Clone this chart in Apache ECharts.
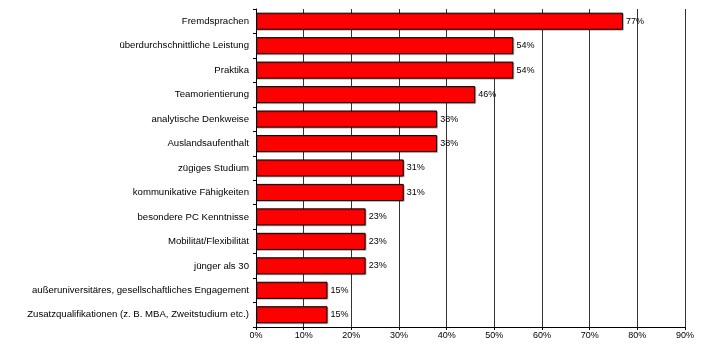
<!DOCTYPE html>
<html><head><meta charset="utf-8">
<script src="https://cdn.jsdelivr.net/npm/echarts@6/dist/echarts.min.js"></script>
<style>html,body{margin:0;padding:0;background:#fff}#c{width:704px;height:344px}</style>
</head><body><div id="c"></div>
<script>
const categories = [
  "Fremdsprachen",
  "überdurchschnittliche Leistung",
  "Praktika",
  "Teamorientierung",
  "analytische Denkweise",
  "Auslandsaufenthalt",
  "zügiges Studium",
  "kommunikative Fähigkeiten",
  "besondere PC Kenntnisse",
  "Mobilität/Flexibilität",
  "jünger als 30",
  "außeruniversitäres, gesellschaftliches Engagement",
  "Zusatzqualifikationen (z. B. MBA, Zweitstudium etc.)"
];
const values = [77, 54, 54, 46, 38, 38, 31, 31, 23, 23, 23, 15, 15];
const xTicks = [0, 10, 20, 30, 40, 50, 60, 70, 80, 90];

const chart = echarts.init(document.getElementById('c'));
const font = 'Arial, "Liberation Sans", sans-serif';
chart.setOption({
  animation: false,
  grid: { left: 256, right: 19, top: 9, bottom: 17 },
  xAxis: {
    type: 'value', min: xTicks[0], max: xTicks[xTicks.length - 1], interval: 10,
    axisLine: { show: true, lineStyle: { color: '#000', width: 1 } },
    axisTick: { show: true, length: 3, lineStyle: { color: '#000' } },
    axisLabel: { formatter: '{value}%', color: '#000', fontSize: 9, fontFamily: font, margin: 4 },
    splitLine: { show: true, lineStyle: { color: '#333', width: 1 } }
  },
  yAxis: {
    type: 'category', data: categories, inverse: true,
    axisLine: { show: true, lineStyle: { color: '#000', width: 1 } },
    axisTick: { show: true, length: 3, alignWithLabel: false, lineStyle: { color: '#000' } },
    axisLabel: { color: '#000', fontSize: 9.6, fontFamily: font, margin: 7 },
    splitLine: { show: false }
  },
  series: [{
    type: 'bar', data: values, barCategoryGap: '30%',
    itemStyle: { color: '#ff0000', borderColor: '#000', borderWidth: 1,
      shadowColor: 'rgba(0,0,0,0.2)', shadowOffsetX: 1, shadowOffsetY: 1, shadowBlur: 0 },
    label: { show: true, position: 'right', formatter: '{c}%', color: '#000', fontSize: 9, fontFamily: font, distance: 3 }
  }]
});
</script></body></html>
